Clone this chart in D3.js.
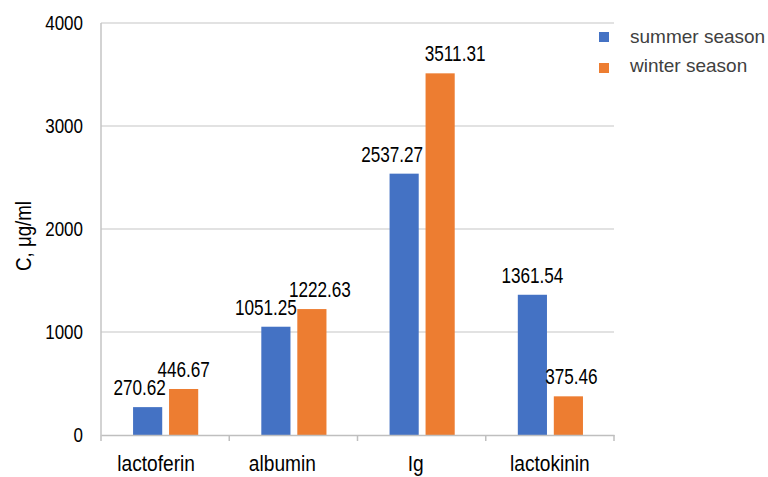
<!DOCTYPE html>
<html lang="en">
<head>
  <meta charset="UTF-8" />
  <title>Protein concentration by season</title>
  <script src="https://d3js.org/d3.v7.min.js"></script>
  <style>
    body {
      margin: 0;
      background: #fff;
    }
    svg {
      display: block;
      font-family: "Liberation Sans", Arial, sans-serif;
    }
  </style>
</head>
<body>
  <svg width="768" height="477"></svg>

  <script>
    // chart data
    const categories = ["lactoferin", "albumin", "Ig", "lactokinin"];
    const seriesNames = ["summer season", "winter season"];
    const summerValues = [270.62, 1051.25, 2537.27, 1361.54];
    const winterValues = [446.67, 1222.63, 3511.31, 375.46];
    const yTicks = [0, 1000, 2000, 3000, 4000];

    const colors = ["#4472C4", "#ED7D31"];
    // small hand nudges of the labels, like the original
    const labelShift = [[-8, 0], [-10, 8], [-12, 15], [0, 3]];
    const catShift = [-9, -11, -6, 0];

    const svg = d3.select("svg");
    const margin = { top: 23, right: 154, bottom: 42, left: 101 };
    const width = 768 - margin.left - margin.right;
    const height = 477 - margin.top - margin.bottom;

    // narrow-looking text: no narrow font installed, so squeeze it
    const squeeze = (sx) => (x, y) => `translate(${x},${y}) scale(${sx},1)`;
    const tickPos = squeeze(0.85);
    const valPos = squeeze(0.78);
    const catPos = squeeze(0.87);

    const g = svg.append("g")
      .attr("transform", `translate(${margin.left},${margin.top})`);

    const x0 = d3.scaleBand().domain(categories).range([0, width]);
    const bw = x0.bandwidth();
    const x1 = d3.scaleBand().domain(seriesNames)
      .range([0.25 * bw, 0.758 * bw])
      .paddingInner(0.19);
    const y = d3.scaleLinear().domain([0, 4000]).range([height, 0]);

    // gridlines
    g.selectAll("line.grid")
      .data(yTicks.slice(1))
      .enter()
      .append("line")
      .attr("class", "grid")
      .attr("x1", 0)
      .attr("x2", width)
      .attr("y1", d => y(d))
      .attr("y2", d => y(d))
      .attr("stroke", "#d9d9d9")
      .attr("stroke-width", 1.5);

    // left axis line
    g.append("line")
      .attr("x1", 0).attr("x2", 0)
      .attr("y1", 0).attr("y2", height)
      .attr("stroke", "#c4c4c4")
      .attr("stroke-width", 1.5);

    // y tick labels
    g.selectAll("text.ytick")
      .data(yTicks)
      .enter()
      .append("text")
      .attr("class", "ytick")
      .attr("transform", d => tickPos(-18, y(d)))
      .attr("dy", "0.35em")
      .attr("text-anchor", "end")
      .attr("font-size", 20)
      .attr("fill", "#000")
      .text(d => d);

    // bars
    const rows = categories.map((c, i) => ({
      cat: c,
      i: i,
      vals: [summerValues[i], winterValues[i]]
    }));

    const groups = g.selectAll("g.cat")
      .data(rows)
      .enter()
      .append("g")
      .attr("class", "cat")
      .attr("transform", d => `translate(${x0(d.cat)},0)`);

    const cells = d => d.vals.map((v, k) => ({ v: v, k: k, i: d.i, s: seriesNames[k] }));

    groups.selectAll("rect")
      .data(cells)
      .enter()
      .append("rect")
      .attr("x", d => x1(d.s))
      .attr("y", d => y(d.v))
      .attr("width", x1.bandwidth())
      .attr("height", d => y(0) - y(d.v))
      .attr("fill", d => colors[d.k]);

    groups.selectAll("text")
      .data(cells)
      .enter()
      .append("text")
      .attr("transform", d => valPos(x1(d.s) + x1.bandwidth() / 2 + labelShift[d.i][d.k], y(d.v) - 12))
      .attr("text-anchor", "middle")
      .attr("font-size", 22)
      .attr("fill", "#000")
      .text(d => d.v.toFixed(2));

    // bottom axis
    const xAxis = d3.axisBottom(x0).tickSize(0).tickFormat("");
    g.append("g")
      .attr("transform", `translate(0,${height})`)
      .call(xAxis)
      .call(a => a.select(".domain").attr("stroke", "#bfbfbf").attr("stroke-width", 1.5));

    g.selectAll("line.xtick")
      .data(d3.range(categories.length + 1))
      .enter()
      .append("line")
      .attr("class", "xtick")
      .attr("x1", d => d * bw)
      .attr("x2", d => d * bw)
      .attr("y1", height)
      .attr("y2", height + 6)
      .attr("stroke", "#bfbfbf")
      .attr("stroke-width", 1.5);

    g.selectAll("text.xlab")
      .data(categories)
      .enter()
      .append("text")
      .attr("class", "xlab")
      .attr("transform", (d, i) => catPos(x0(d) + bw / 2 + catShift[i], height + 36))
      .attr("text-anchor", "middle")
      .attr("font-size", 22)
      .attr("fill", "#000")
      .text(d => d);

    // y axis title
    svg.append("text")
      .attr("transform", "translate(31,236) rotate(-90) scale(0.85,1)")
      .attr("text-anchor", "middle")
      .attr("font-size", 22)
      .attr("fill", "#000")
      .text("C, μg/ml");

    // legend
    const legend = svg.append("g")
      .attr("transform", "translate(599,32)");
    seriesNames.forEach((s, k) => {
      legend.append("rect")
        .attr("x", 0)
        .attr("y", k * 31)
        .attr("width", 10)
        .attr("height", 10)
        .attr("fill", colors[k]);
      legend.append("text")
        .attr("x", 31)
        .attr("y", k * 29 + 11)
        .attr("font-size", 19)
        .attr("fill", "#404040")
        .text(s);
    });
  </script>
</body>
</html>
